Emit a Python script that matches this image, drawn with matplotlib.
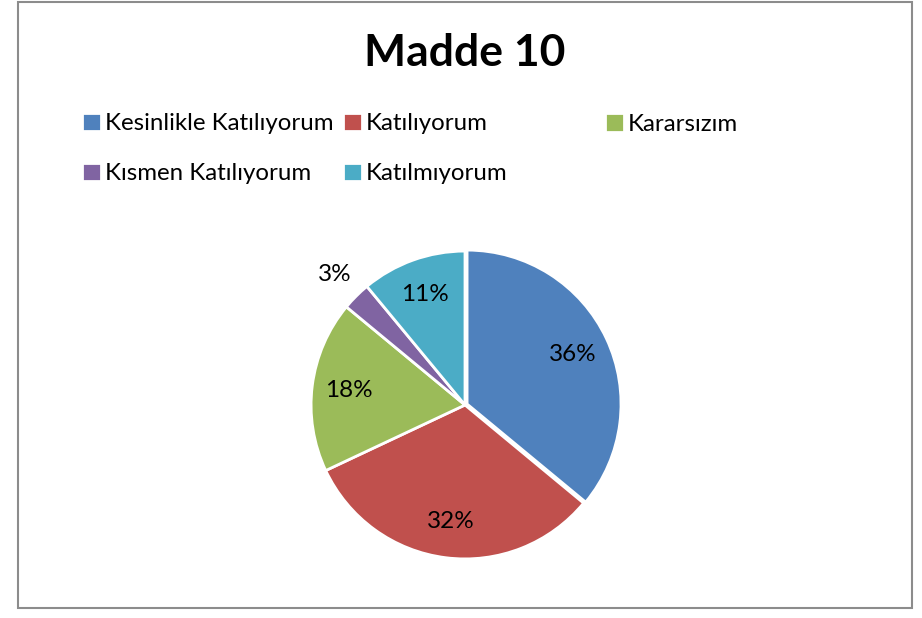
import matplotlib
matplotlib.use("Agg")
import matplotlib.pyplot as plt
from matplotlib.patches import Rectangle
import numpy as np

plt.rcParams['font.family'] = ['Lato', 'DejaVu Sans']

title = "Madde 10"
labels = ["Kesinlikle Katılıyorum", "Katılıyorum", "Kararsızım",
          "Kısmen Katılıyorum", "Katılmıyorum"]
values = [36, 32, 18, 3, 11]
colors = ["#4F81BD", "#C0504D", "#9BBB59", "#8064A2", "#4BACC6"]

W, H = 922, 618
fig = plt.figure(figsize=(W / 100, H / 100), dpi=100)

# chart frame
fig.patches.append(Rectangle((18 / W, 1 - 608 / H), 894 / W, 606 / H,
                             transform=fig.transFigure, fill=False,
                             edgecolor="#8c8c8c", linewidth=1.5))

fig.text(465 / W, 1 - 53 / H, title, ha="center", va="center",
         fontsize=32, fontweight="bold")

# pie axes: center (465,405), radius 157 px
r = 157
ax = fig.add_axes([(465 - r) / W, (H - 405 - r) / H, 2 * r / W, 2 * r / H])
explode = [0.015, 0, 0, 0, 0]
wedges, texts, autotexts = ax.pie(
    values, colors=colors, startangle=90, counterclock=False,
    explode=explode, autopct="%d%%", pctdistance=0.76,
    wedgeprops=dict(edgecolor="white", linewidth=2),
    textprops=dict(fontsize=17.5, color="black"))
ax.set_xlim(-1.02, 1.02)
ax.set_ylim(-1.02, 1.02)
ax.set_aspect("equal")

# small slice label goes outside
w = wedges[3]
ang = np.deg2rad((w.theta1 + w.theta2) / 2)
autotexts[3].set_position((1.2 * np.cos(ang), 1.2 * np.sin(ang)))

# legend: three equal-width columns like the original
cols = [[0, 3], [1, 4], [2]]
xs = [82, 343, 605]
for idx, x in zip(cols, xs):
    y = 124 if len(idx) == 1 else (124 + 173) / 2
    fig.legend([wedges[i] for i in idx], [labels[i] for i in idx],
               loc="center left", bbox_to_anchor=(x / W, 1 - y / H),
               frameon=False, fontsize=17.3, borderpad=0, borderaxespad=0,
               handlelength=0.8, handleheight=0.8, handletextpad=0.15,
               labelspacing=1.2)

fig.savefig("out.png", dpi=100)
